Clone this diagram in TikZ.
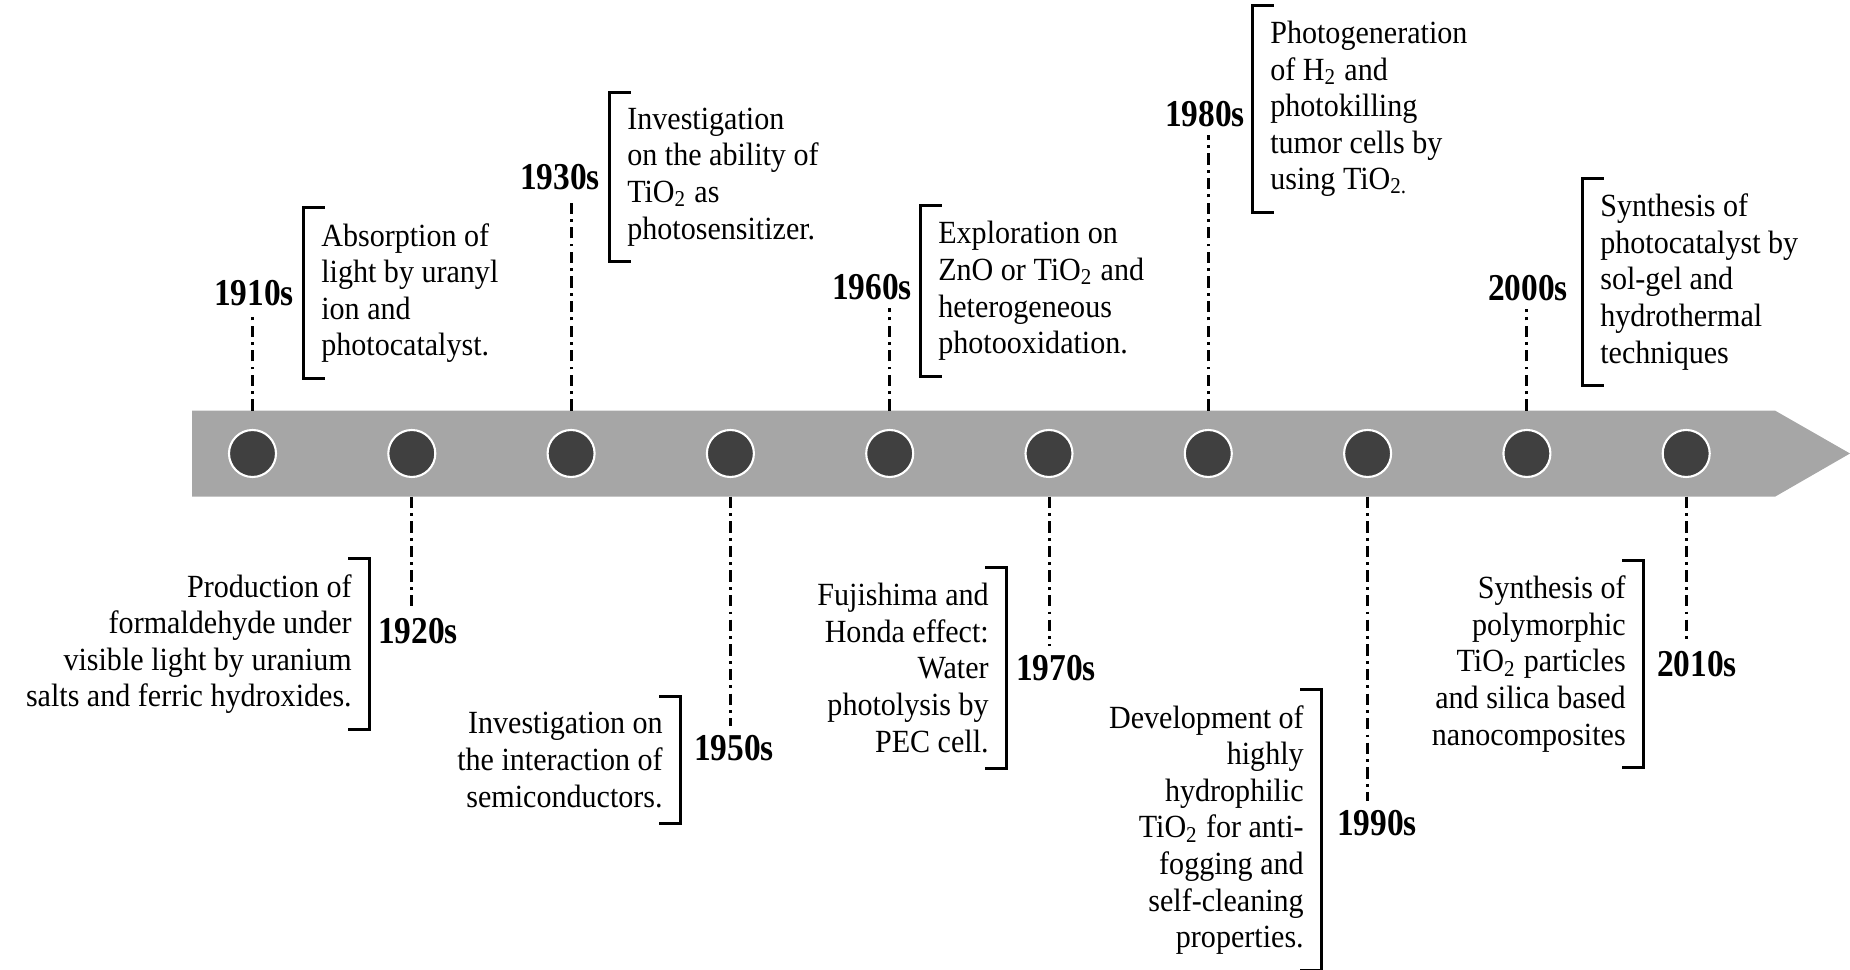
\documentclass[tikz,border=0pt]{standalone}
\usepackage{fontspec}
\setmainfont{Liberation Serif}
\newfontfamily\notefont[FakeStretch=0.93]{Liberation Serif}
\newfontfamily\yearfont[FakeStretch=0.88]{Liberation Serif}
\usetikzlibrary{calc,positioning}
\def\lbrk(#1){\draw[brk] ($(#1.north west)+(0.21,0)$) -- (#1.north west) -- (#1.south west) -- ($(#1.south west)+(0.21,0)$);}
\def\rbrk(#1){\draw[brk] ($(#1.north east)+(-0.21,0)$) -- (#1.north east) -- (#1.south east) -- ($(#1.south east)+(-0.21,0)$);}

\begin{document}
\begin{tikzpicture}[
	brk/.style={line width=0.85pt},
	dline/.style={line width=0.85pt, dash pattern=on 3.2pt off 1.5pt on 0.8pt off 1.5pt, shorten >=0.08cm},
	dot/.style={circle, draw=white, line width=0.6pt, fill=black!75, minimum size=0.47cm, inner sep=0pt},
	year/.style={font={\yearfont\fontsize{10.8}{12}\selectfont\bfseries}, inner sep=0pt},
	note/.style={font={\notefont\fontsize{9.2}{10.4}\selectfont}, inner xsep=0.17cm, inner ysep=0.15cm},
	]
	%%%%% BAR %%%%%
	\useasboundingbox (0,0) rectangle (18.5,9.7);
	\fill[black!35] (1.92,4.733) -- (17.75,4.733) -- (18.5,5.165) -- (17.75,5.594) -- (1.92,5.594) -- cycle;
	\coordinate (bartop) at (0,5.594);
	\coordinate (barbot) at (0,4.733);
	\foreach \i in {1,...,10}
		\node[dot] (c\i) at ({2.525+1.593*(\i-1)},5.165) {};
	
	%%%%% ABOVE %%%%%
	\node[year] (y1910) at (2.54,6.77) {1910s};
	\node[note, align=left, right=0.09cm of y1910] (n1910) {Absorption of\\light by uranyl\\ion and\\photocatalyst.};
	\node[year] (y1930) at (5.60,7.93) {1930s};
	\node[note, align=left, right=0.09cm of y1930] (n1930) {Investigation\\on the ability of\\TiO\textsubscript{2} as\\photosensitizer.};
	\node[year] (y1960) at (8.72,6.83) {1960s};
	\node[note, align=left, right=0.08cm of y1960, yshift=-0.04cm] (n1960) {Exploration on\\ZnO or TiO\textsubscript{2} and\\heterogeneous\\photooxidation.};
	\node[year] (y1980) at (12.05,8.56) {1980s};
	\node[note, align=left, right=0.07cm of y1980, yshift=0.05cm] (n1980) {Photogeneration\\of H\textsubscript{2} and\\photokilling\\tumor cells by\\using TiO\textsubscript{2.}};
	\node[year] (y2000) at (15.28,6.82) {2000s};
	\node[note, align=left, right=0.14cm of y2000, yshift=0.06cm] (n2000) {Synthesis of\\photocatalyst by\\sol-gel and\\hydrothermal\\techniques};
	
	%%%%% BELOW %%%%%
	\node[year] (y1920) at (4.18,3.39) {1920s};
	\node[note, align=right, left=0.08cm of y1920, yshift=-0.13cm] (n1920) {Production of\\formaldehyde under\\visible light by uranium\\salts and ferric hydroxides.};
	\node[year] (y1950) at (7.34,2.22) {1950s};
	\node[note, align=right, left=0.13cm of y1950, yshift=-0.12cm] (n1950) {Investigation on\\the interaction of\\semiconductors.};
	\node[year] (y1970) at (10.56,3.02) {1970s};
	\node[note, align=right, left=0.09cm of y1970] (n1970) {Fujishima and\\Honda effect:\\Water\\photolysis by\\PEC cell.};
	\node[year] (y1990) at (13.77,1.47) {1990s};
	\node[note, align=right, left=0.15cm of y1990, yshift=-0.07cm] (n1990) {Development of\\highly\\hydrophilic\\TiO\textsubscript{2} for anti-\\fogging and\\self-cleaning\\properties.};
	\node[year] (y2010) at (16.97,3.06) {2010s};
	\node[note, align=right, left=0.13cm of y2010] (n2010) {Synthesis of\\polymorphic\\TiO\textsubscript{2} particles\\and silica based\\nanocomposites};
	
	%%%%% LINES %%%%%
	\draw[dline] (c1 |- bartop) -- (c1 |- y1910.south);
	\draw[dline] (c3 |- bartop) -- (c3 |- y1930.south);
	\draw[dline] (c5 |- bartop) -- (c5 |- y1960.south);
	\draw[dline] (c7 |- bartop) -- (c7 |- y1980.south);
	\draw[dline] (c9 |- bartop) -- (c9 |- y2000.south);
	\draw[dline] (c2 |- barbot) -- (c2 |- y1920.north);
	\draw[dline] (c4 |- barbot) -- (c4 |- y1950.north);
	\draw[dline] (c6 |- barbot) -- (c6 |- y1970.north);
	\draw[dline] (c8 |- barbot) -- (c8 |- y1990.north);
	\draw[dline] (c10 |- barbot) -- (c10 |- y2010.north);
	
	%%%%% BRACKETS %%%%%
	\lbrk(n1910) \lbrk(n1930) \lbrk(n1960) \lbrk(n1980) \lbrk(n2000)
	\rbrk(n1920) \rbrk(n1950) \rbrk(n1970) \rbrk(n1990) \rbrk(n2010)
\end{tikzpicture}
\end{document}
